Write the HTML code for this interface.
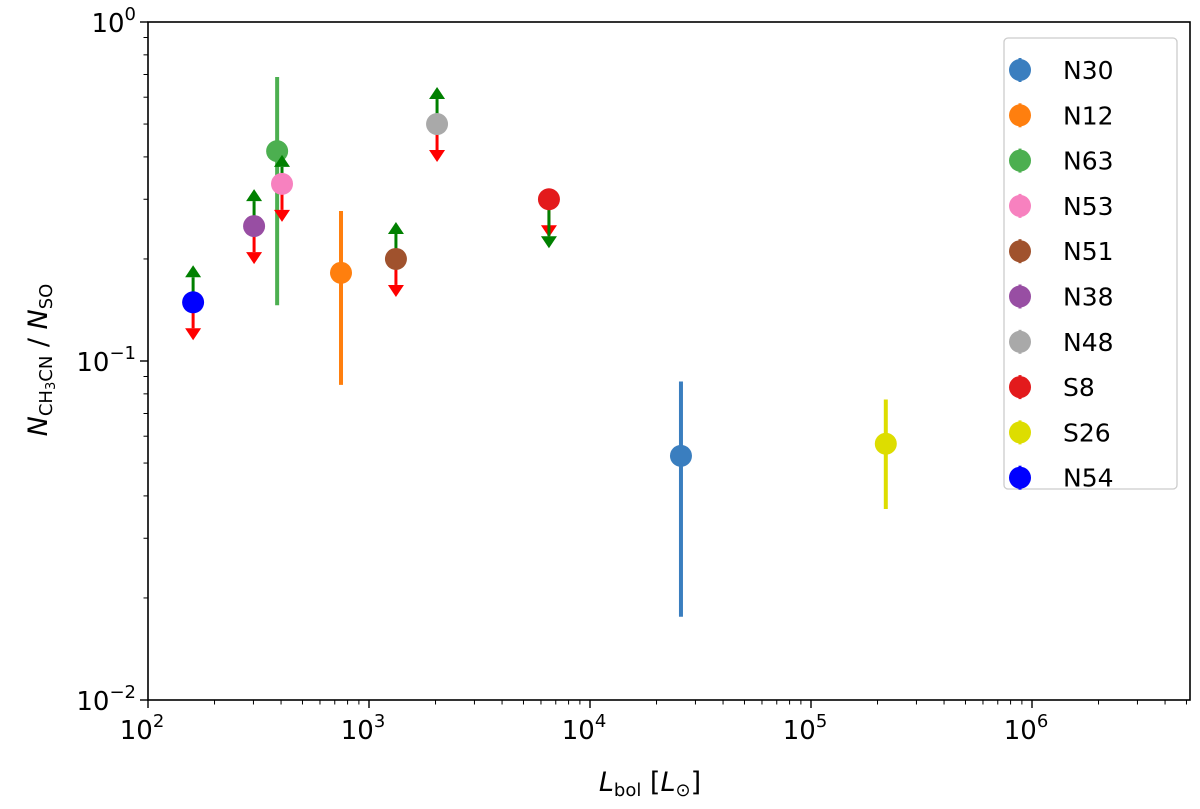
<!DOCTYPE html>
<html><head><meta charset="utf-8"><style>
body{margin:0;background:#fff;}
svg text{font-family:"DejaVu Sans","Liberation Sans",sans-serif;fill:#000;}
</style></head><body>
<svg id="chart" width="1200" height="804" viewBox="0 0 1200 804" xmlns="http://www.w3.org/2000/svg">
<g id="plot"></g>
</svg>
<script>
const names=["N30","N12","N63","N53","N51","N38","N48","S8","S26","N54"];
const colors=["#3a7ebf","#ff7f0e","#4caf50","#f781bf","#a0522d","#984ea3","#a9a9a9","#e31a1c","#dddd00","#0000ff"];
const xVals=[25800,747,384,404,1324,302,2032,6520,218000,160];
const yVals=[0.0525,0.182,0.416,0.333,0.2,0.25,0.5,0.30,0.057,0.149];
const errLo=[0.0176,0.085,0.146,null,null,null,null,null,0.0366,null];
const errHi=[0.087,0.277,0.688,null,null,null,null,null,0.077,null];
// limit arrows: green (lower limit) and red (upper limit)
const greenLim=["","","","up","up","up","up","down","","up"];
const redLim=["","","","down","down","down","down","down","","down"];
const xTicks=[2,3,4,5,6];
const yTicks=[-2,-1,0];

const L=148,R=1190,T=22,B=700;
const X=v=>L+(Math.log10(v)-2)*221;
const Y=v=>T+(0-Math.log10(v))*339;
const NS="http://www.w3.org/2000/svg";
const svg=document.getElementById('chart');
const g=document.getElementById('plot');
function el(t,a,p){const e=document.createElementNS(NS,t);for(const k in a)e.setAttribute(k,a[k]);(p||g).appendChild(e);return e;}

const box=el('rect',{x:L,y:T,width:R-L,height:B-T,fill:'none',stroke:'#000','stroke-width':1.6});



xTicks.forEach(p=>{
  const x=X(Math.pow(10,p));
  const t=el('line',{x1:x,x2:x,y1:B,y2:B+8,stroke:'#000','stroke-width':1.4});
  
  
  const tx=el('text',{x:x-6,y:B+39,'font-size':26,'text-anchor':'middle'});
  
  
  tx.innerHTML='10<tspan dy="-12" font-size="18">'+p+'</tspan>';
  for(let m=2;m<=9;m++){const xm=X(m*Math.pow(10,p));if(xm>R)break;
    const mt=el('line',{x1:xm,x2:xm,y1:B,y2:B+4.5,stroke:'#000','stroke-width':1});
    
    }
});
yTicks.forEach(p=>{
  const y=Y(Math.pow(10,p));
  const t=el('line',{x1:L-8,x2:L,y1:y,y2:y,stroke:'#000','stroke-width':1.4});
  
  
  const tx=el('text',{x:L-12,y:y+10,'font-size':26,'text-anchor':'end'});
  
  
  tx.innerHTML='10<tspan dy="-12" font-size="18">'+(p<0?'\u2212'+(-p):p)+'</tspan>';
  if(p<0)for(let m=2;m<=9;m++){const ym=Y(m*Math.pow(10,p));
    const mt=el('line',{x1:L-4.5,x2:L,y1:ym,y2:ym,stroke:'#000','stroke-width':1});
    
    }
});
const xt=el('text',{x:650,y:791,'font-size':27,'text-anchor':'middle'});


xt.innerHTML='<tspan font-style="italic">L</tspan><tspan font-size="18" dy="5">bol</tspan><tspan dy="-5"> [</tspan><tspan font-style="italic">L</tspan><tspan font-size="18" dy="5">⊙</tspan><tspan dy="-5">]</tspan>';
const yt=el('text',{x:0,y:0,'font-size':27,'text-anchor':'middle',transform:'translate(47,360) rotate(-90)'});


yt.innerHTML='<tspan font-style="italic">N</tspan><tspan font-size="18" dy="5">CH<tspan font-size="13" dy="3">3</tspan><tspan dy="-3">CN</tspan></tspan><tspan dy="-5"> / </tspan><tspan font-style="italic">N</tspan><tspan font-size="18" dy="5">SO</tspan>';

function arrow(x,y,dir,len,col,name){
  const tip=y+dir*len, base=tip-dir*12;
  const a=el('line',{x1:x,x2:x,y1:y,y2:base,stroke:col,'stroke-width':3});
  
  
  const h=el('polygon',{points:`${x-8},${base} ${x+8},${base} ${x},${tip}`,fill:col});
  
  
}
names.forEach((n,i)=>{
  const x=X(xVals[i]),y=Y(yVals[i]);
  if(errLo[i]!==null){
    const e=el('line',{x1:x,x2:x,y1:Y(errHi[i]),y2:Y(errLo[i]),stroke:colors[i],'stroke-width':4});
    
    
  }
  if(redLim[i]) arrow(x,y,1,38,'#ff0000','upper-limit-'+n.toLowerCase());
  if(greenLim[i]==='up') arrow(x,y,-1,n==='N53'?29:37,'#008000','lower-limit-'+n.toLowerCase());
  if(greenLim[i]==='down') arrow(x,y,1,49,'#008000','lower-limit-'+n.toLowerCase());
  const c=el('circle',{cx:x,cy:y,r:11,fill:colors[i]});
  
  
});
const lg=el('g',{},svg);


const lb=el('rect',{x:1004,y:38,width:173,height:451,rx:4,fill:'#fff',stroke:'#ccc','stroke-width':1.3},lg);


names.forEach((n,i)=>{
  const y=70+i*45.3;
  const e=el('g',{},lg);
  
  
  el('line',{x1:1020,x2:1020,y1:y-12,y2:y+12,stroke:colors[i],'stroke-width':3},e);
  el('circle',{cx:1020,cy:y,r:11,fill:colors[i]},e);
  const t=el('text',{x:1063,y:y+9,'font-size':25},e);
  t.textContent=n;
});
</script>
</body></html>
